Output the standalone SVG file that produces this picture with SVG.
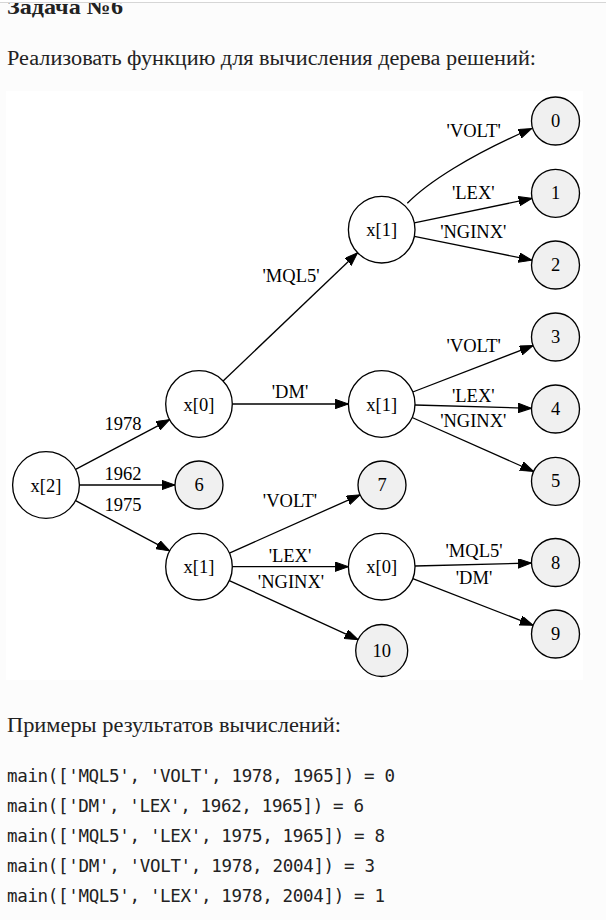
<svg xmlns="http://www.w3.org/2000/svg" width="606" height="920" viewBox="0 0 606 920">
  <style>
    .page { fill: #fcfcfc; }
    .canvas { fill: #ffffff; }
    .heading { font-family: "Liberation Serif", "DejaVu Serif", serif; font-weight: bold; font-size: 22px; fill: #222222; }
    .para { font-family: "Liberation Serif", "DejaVu Serif", serif; font-size: 20px; fill: #222222; }
    .code { font-family: "DejaVu Sans Mono", "Liberation Mono", monospace; font-size: 17.5px; fill: #222222; }
    .node circle { stroke: #000000; stroke-width: 1.33; }
    .decision circle { fill: #ffffff; }
    .leaf circle { fill: #f0f0f0; }
    .node text, .lbl { font-family: "Liberation Serif", "Times New Roman", serif; font-size: 18.5px; fill: #000000; text-anchor: middle; }
    .edge { fill: none; stroke: #000000; stroke-width: 1.33; marker-end: url(#arrow); }
  </style>
  <defs>
    <marker id="arrow" markerUnits="userSpaceOnUse" markerWidth="14" markerHeight="10" refX="13.3" refY="4.7" orient="auto">
      <path d="M0,0 L13.3,4.7 L0,9.4 Z" fill="#000000" stroke="#000000" stroke-width="1"/>
    </marker>
  </defs>

  <!-- page background and header rule -->
  <rect class="page" x="0" y="0" width="606" height="920"/>
  <text class="heading" x="7" y="14" textLength="116" lengthAdjust="spacingAndGlyphs">Задача №6</text>
  <rect x="0" y="0" width="606" height="2" fill="#ffffff"/>
  <line x1="0" y1="2.5" x2="606" y2="2.5" stroke="#d6d6d6" stroke-width="1"/>

  <text class="para" x="7" y="65" textLength="529" lengthAdjust="spacingAndGlyphs">Реализовать функцию для вычисления дерева решений:</text>

  <!-- decision tree drawing area -->
  <rect class="canvas" x="6" y="91" width="577" height="589"/>

  <g id="connectors">
    <!-- x[2] -->
    <line class="edge" x1="75.6" y1="469.3" x2="169.6" y2="419.6"/>
    <line class="edge" x1="79.5" y1="485" x2="175" y2="485"/>
    <line class="edge" x1="75.6" y1="500.7" x2="169.6" y2="550.9"/>
    <!-- x[0] upper -->
    <line class="edge" x1="223.1" y1="381" x2="357.6" y2="252.7"/>
    <line class="edge" x1="232.3" y1="404" x2="348.4" y2="404"/>
    <!-- x[1] top -->
    <path class="edge" d="M407.3,203.3 C427,183 470,155 531.7,128.5"/>
    <line class="edge" x1="414.3" y1="222.9" x2="532" y2="198.4"/>
    <line class="edge" x1="414.3" y1="236.3" x2="532" y2="260.2"/>
    <!-- x[1] middle -->
    <line class="edge" x1="412.8" y1="392" x2="533.1" y2="345.6"/>
    <line class="edge" x1="415" y1="405" x2="531.5" y2="408.3"/>
    <line class="edge" x1="412.1" y1="417.5" x2="533.6" y2="471.5"/>
    <!-- x[1] lower -->
    <line class="edge" x1="229.4" y1="553.1" x2="360.1" y2="494.8"/>
    <line class="edge" x1="232.3" y1="566.7" x2="348.4" y2="566.7"/>
    <line class="edge" x1="229.3" y1="580.6" x2="358.1" y2="639.7"/>
    <!-- x[0] lower -->
    <line class="edge" x1="415" y1="566" x2="531.5" y2="563"/>
    <line class="edge" x1="412.8" y1="578.7" x2="533.1" y2="625.3"/>

    <!-- edge labels -->
    <text class="lbl" x="123" y="430">1978</text>
    <text class="lbl" x="123" y="480">1962</text>
    <text class="lbl" x="123" y="511">1975</text>
    <text class="lbl" x="291" y="282">'MQL5'</text>
    <text class="lbl" x="290" y="398">'DM'</text>
    <text class="lbl" x="473.7" y="137">'VOLT'</text>
    <text class="lbl" x="473.3" y="199">'LEX'</text>
    <text class="lbl" x="473.3" y="237.5">'NGINX'</text>
    <text class="lbl" x="473.7" y="351.5">'VOLT'</text>
    <text class="lbl" x="473.3" y="401.5">'LEX'</text>
    <text class="lbl" x="473.3" y="427">'NGINX'</text>
    <text class="lbl" x="290" y="507">'VOLT'</text>
    <text class="lbl" x="290" y="561.5">'LEX'</text>
    <text class="lbl" x="291" y="588">'NGINX'</text>
    <text class="lbl" x="474" y="557">'MQL5'</text>
    <text class="lbl" x="474" y="584">'DM'</text>
  </g>

  <!-- decision nodes -->
  <g id="n_x2" class="node decision"><circle cx="46" cy="485" r="33.4"/><text x="46" y="491.5">x[2]</text></g>
  <g id="n_x0_top" class="node decision"><circle cx="199" cy="404" r="33.3"/><text x="199" y="410.5">x[0]</text></g>
  <g id="n_x1_low" class="node decision"><circle cx="199" cy="566.7" r="33.3"/><text x="199" y="573.2">x[1]</text></g>
  <g id="n_x1_top" class="node decision"><circle cx="381.7" cy="229.7" r="33.3"/><text x="381.7" y="236.2">x[1]</text></g>
  <g id="n_x1_mid" class="node decision"><circle cx="381.7" cy="404" r="33.3"/><text x="381.7" y="410.5">x[1]</text></g>
  <g id="n_x0_low" class="node decision"><circle cx="381.7" cy="566.7" r="33.3"/><text x="381.7" y="573.2">x[0]</text></g>

  <!-- result leaves -->
  <g id="leaf0" class="node leaf"><circle cx="555.5" cy="121" r="24"/><text x="555.5" y="127">0</text></g>
  <g id="leaf1" class="node leaf"><circle cx="555.5" cy="193.3" r="24"/><text x="555.5" y="199.3">1</text></g>
  <g id="leaf2" class="node leaf"><circle cx="555.5" cy="265" r="24"/><text x="555.5" y="271">2</text></g>
  <g id="leaf3" class="node leaf"><circle cx="555.5" cy="337" r="24"/><text x="555.5" y="343">3</text></g>
  <g id="leaf4" class="node leaf"><circle cx="555.5" cy="409" r="24"/><text x="555.5" y="415">4</text></g>
  <g id="leaf5" class="node leaf"><circle cx="555.5" cy="481.3" r="24"/><text x="555.5" y="487.3">5</text></g>
  <g id="leaf6" class="node leaf"><circle cx="199" cy="485" r="24"/><text x="199" y="491">6</text></g>
  <g id="leaf7" class="node leaf"><circle cx="382" cy="485" r="24"/><text x="382" y="491">7</text></g>
  <g id="leaf8" class="node leaf"><circle cx="555.5" cy="562.5" r="24"/><text x="555.5" y="568.5">8</text></g>
  <g id="leaf9" class="node leaf"><circle cx="555.5" cy="634" r="24"/><text x="555.5" y="640">9</text></g>
  <g id="leaf10" class="node leaf"><circle cx="381.7" cy="650.5" r="26"/><text x="381.7" y="656.5">10</text></g>

  <!-- examples -->
  <text class="para" x="7" y="732" textLength="334" lengthAdjust="spacingAndGlyphs">Примеры результатов вычислений:</text>
  <text class="code" x="7" y="782" textLength="388" lengthAdjust="spacing">main(['MQL5', 'VOLT', 1978, 1965]) = 0</text>
  <text class="code" x="7" y="812" textLength="357" lengthAdjust="spacing">main(['DM', 'LEX', 1962, 1965]) = 6</text>
  <text class="code" x="7" y="842" textLength="378" lengthAdjust="spacing">main(['MQL5', 'LEX', 1975, 1965]) = 8</text>
  <text class="code" x="7" y="872" textLength="368" lengthAdjust="spacing">main(['DM', 'VOLT', 1978, 2004]) = 3</text>
  <text class="code" x="7" y="902" textLength="378" lengthAdjust="spacing">main(['MQL5', 'LEX', 1978, 2004]) = 1</text>
</svg>
